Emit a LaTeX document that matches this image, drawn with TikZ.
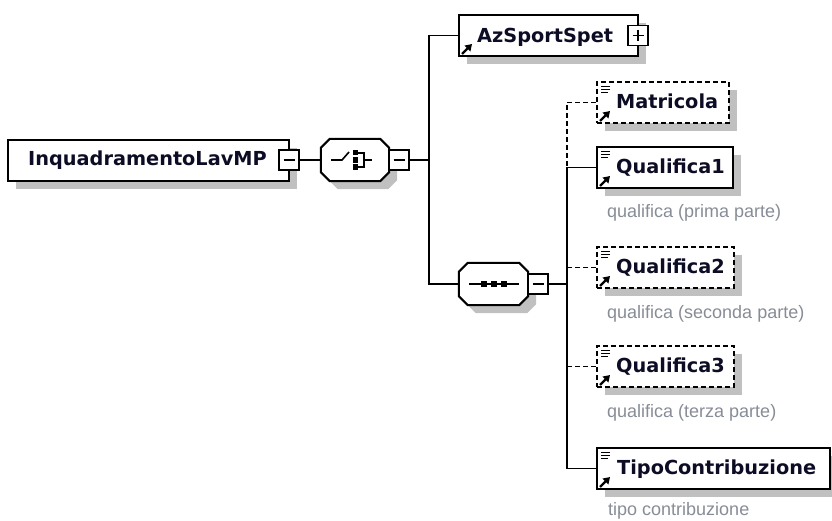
\documentclass[tikz,border=0pt]{standalone}
\usepackage{fontspec}
\setmainfont{DejaVu Sans}
\newfontfamily\descfont{Liberation Sans}
\usetikzlibrary{calc,shadows,arrows.meta}
\definecolor{shadowgray}{RGB}{192,192,192}
\definecolor{titlecol}{RGB}{12,12,36}
\definecolor{desccol}{RGB}{135,140,150}
\newcommand\octpath[3]{($(#1.north west)+(9+#2,#3)$) -- ($(#1.north east)+(-9+#2,#3)$) -- ($(#1.north east)+(#2,9+#3)$) -- ($(#1.south east)+(#2,-9+#3)$) -- ($(#1.south east)+(-9+#2,#3)$) -- ($(#1.south west)+(9+#2,#3)$) -- ($(#1.south west)+(#2,-9+#3)$) -- ($(#1.north west)+(#2,9+#3)$) -- cycle}
\newcommand\elicons[1]{%
  \draw[line width=1.3pt] ($(#1.north west)+(5,5.5)$) -- ++(9,0);
  \draw[line width=1.3pt] ($(#1.north west)+(5,8.5)$) -- ++(9,0);
  \draw[line width=1.3pt] ($(#1.north west)+(5,11.5)$) -- ++(7,0);
  \draw[line width=2.4pt,-{Triangle[length=6.5pt,width=8pt]}] ($(#1.south west)+(4,-3)$) -- ($(#1.south west)+(14,-13)$);}
\begin{document}
\begin{tikzpicture}[x=1pt,y=-1pt,
  box/.style={draw=black,line width=2pt,fill=white,inner sep=0pt,minimum height=41pt,
    drop shadow={shadow xshift=8pt,shadow yshift=-8pt,fill=shadowgray,opacity=1}},
  optbox/.style={box,dash pattern=on 5pt off 3pt},
  expbox/.style={draw=black,line width=1.6pt,fill=white,inner sep=0pt,minimum width=20pt,minimum height=20pt},
  conn/.style={draw=black,line width=1.6pt},
  optconn/.style={conn,dash pattern=on 5pt off 3pt},
  title/.style={font=\fontsize{19.3}{22}\selectfont\bfseries,text=titlecol,inner sep=0pt,anchor=base west},
  desc/.style={font=\descfont\fontsize{18}{20}\selectfont,text=desccol,inner sep=0pt,anchor=base west},
  grp/.style={inner sep=0pt,minimum width=68pt,minimum height=42pt},
]
\useasboundingbox (0,0) rectangle (832,521);

% element boxes
\node[box,minimum width=281pt] (root) at (148.5,160.5) {};
\node[box,minimum width=179pt] (az) at (548.5,35.5) {};
\node[optbox,minimum width=132pt] (mat) at (663,102.5) {};
\node[box,minimum width=136pt] (q1) at (665,167.5) {};
\node[optbox,minimum width=137pt] (q2) at (665.5,267.5) {};
\node[optbox,minimum width=137pt] (q3) at (665.5,366.5) {};
\node[box,minimum width=233pt] (tipo) at (713.5,468.5) {};

% group nodes (octagons)
\node[grp] (choice) at (355,160) {};
\node[grp,minimum width=69pt] (seq) at (493.5,284) {};
\fill[shadowgray] \octpath{choice}{8}{8};
\draw[line width=2pt,fill=white] \octpath{choice}{0}{0};
\fill[shadowgray] \octpath{seq}{8}{8};
\draw[line width=2pt,fill=white] \octpath{seq}{0}{0};

% choice icon
\begin{scope}[shift={(choice.center)}]
  \draw[line width=1.6pt] (-24,0) -- (-13,0) -- (-6,-8);
  \fill (-2.5,-10) rectangle (3,-4.5);
  \fill (-2.5,-2.75) rectangle (3,2.75);
  \fill (-2.5,4.5) rectangle (3,10);
  \draw[line width=1.6pt] (3,-7) -- (9,-7) -- (9,7) -- (3,7);
  \draw[line width=1.6pt] (9,0) -- (17,0);
\end{scope}
% sequence icon
\begin{scope}[shift={(seq.center)}]
  \draw[line width=1.6pt] (-24.5,0) -- (25.5,0);
  \fill (-12.5,-3) rectangle (-6.5,3);
  \fill (-2.5,-3) rectangle (3.5,3);
  \fill (7.5,-3) rectangle (13.5,3);
\end{scope}

% expand boxes
\node[expbox] (rootx) at (289,160) {};
\node[expbox] (choicex) at (399,160) {};
\node[expbox] (seqx) at (538,284) {};
\node[expbox] (azx) at (638,35.5) {};
\draw[line width=1.6pt] ($(rootx)+(-5.5,0)$) -- ($(rootx)+(5.5,0)$);
\draw[line width=1.6pt] ($(choicex)+(-5.5,0)$) -- ($(choicex)+(5.5,0)$);
\draw[line width=1.6pt] ($(seqx)+(-5.5,0)$) -- ($(seqx)+(5.5,0)$);
\draw[line width=1.6pt] ($(azx)+(-5.5,0)$) -- ($(azx)+(5.5,0)$);
\draw[line width=1.6pt] ($(azx)+(0,-5.5)$) -- ($(azx)+(0,5.5)$);

% connectors
\coordinate (bus1) at (429,160);
\coordinate (bus2) at (567,284);
\draw[conn] (rootx.east) -- (choice.west);
\draw[conn] (choicex.east) -- (bus1);
\draw[conn] (az.west) -| (bus1) |- (seq.west);
\draw[conn] (seqx.east) -- (bus2);
\draw[optconn] (mat.west) -| (bus2 |- q1.west);
\draw[conn] (q1.west) -| (bus2) |- (tipo.west);
\draw[optconn] (q2.west) -- (q2.west -| bus2);
\draw[optconn] (q3.west) -- (q3.west -| bus2);

% icons
\elicons{mat}
\elicons{q1}
\elicons{q2}
\elicons{q3}
\elicons{tipo}
\draw[line width=2.4pt,-{Triangle[length=6.5pt,width=8pt]}] ($(az.south west)+(4,-3)$) -- ($(az.south west)+(14,-13)$);

% titles
\node[title] (t-root) at (28,166) {InquadramentoLavMP};
\node[title] (t-az) at (477,42.5) {AzSportSpet};
\node[title] (t-mat) at (616,108.5) {Matricola};
\node[title] (t-q1) at (616,173.5) {Qualifica1};
\node[title] (t-q2) at (616,273.5) {Qualifica2};
\node[title] (t-q3) at (616,372.5) {Qualifica3};
\node[title] (t-tipo) at (617,474.5) {TipoContribuzione};

% descriptions
\node[desc] (d-q1) at (607,218) {qualifica (prima parte)};
\node[desc] (d-q2) at (607,318) {qualifica (seconda parte)};
\node[desc] (d-q3) at (607,417) {qualifica (terza parte)};
\node[desc] (d-tipo) at (608,515) {tipo contribuzione};
\end{tikzpicture}
\end{document}
